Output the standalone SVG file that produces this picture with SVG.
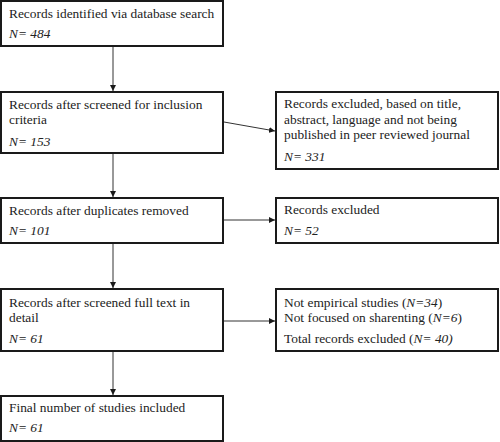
<svg xmlns="http://www.w3.org/2000/svg" width="500" height="442" viewBox="0 0 500 442">
<style>
.box{fill:#fff;stroke:#1a1a1a;stroke-width:2}
text{font-family:"Liberation Serif","Times New Roman",serif;font-size:13.4px;fill:#222}
.n{font-style:italic}
.c{stroke:#333;stroke-width:1;fill:none;marker-end:url(#ah)}
</style>
<defs>
<marker id="ah" viewBox="0 0 10 10" refX="10" refY="5" markerWidth="6" markerHeight="6" markerUnits="userSpaceOnUse" orient="auto">
<path d="M0,0 L10,5 L0,10 z" fill="#1a1a1a"/>
</marker>
</defs>
<rect width="500" height="442" fill="#fff"/>
<g id="connectors">
<line class="c" x1="113" y1="46" x2="113" y2="91"/>
<line class="c" x1="113" y1="153" x2="113" y2="197"/>
<line class="c" x1="113" y1="243" x2="113" y2="288"/>
<line class="c" x1="113" y1="351" x2="113" y2="395"/>
<line class="c" x1="224" y1="122" x2="275" y2="131"/>
<line class="c" x1="224" y1="220" x2="275" y2="220"/>
<line class="c" x1="224" y1="321" x2="275" y2="321"/>
</g>
<g id="n1">
<rect class="box" x="1" y="1" width="222" height="45"/>
<text x="9" y="18">Records identified via database search</text>
<text x="9" y="38" class="n">N= 484</text>
</g>
<g id="n2">
<rect class="box" x="1" y="92" width="222" height="61"/>
<text x="9" y="109">Records after screened for inclusion</text>
<text x="9" y="124">criteria</text>
<text x="9" y="146" class="n">N= 153</text>
</g>
<g id="n3">
<rect class="box" x="1" y="198" width="222" height="45"/>
<text x="9" y="215">Records after duplicates removed</text>
<text x="9" y="235" class="n">N= 101</text>
</g>
<g id="n4">
<rect class="box" x="1" y="289" width="222" height="62"/>
<text x="9" y="307">Records after screened full text in</text>
<text x="9" y="322">detail</text>
<text x="9" y="343" class="n">N= 61</text>
</g>
<g id="n5">
<rect class="box" x="1" y="396" width="222" height="45"/>
<text x="9" y="412">Final number of studies included</text>
<text x="9" y="432" class="n">N= 61</text>
</g>
<g id="r1">
<rect class="box" x="276" y="92" width="222" height="77"/>
<text x="284" y="108">Records excluded, based on title,</text>
<text x="284" y="124">abstract, language and not being</text>
<text x="284" y="139">published in peer reviewed journal</text>
<text x="284" y="161" class="n">N= 331</text>
</g>
<g id="r2">
<rect class="box" x="276" y="198" width="222" height="45"/>
<text x="284" y="214">Records excluded</text>
<text x="284" y="235" class="n">N= 52</text>
</g>
<g id="r3">
<rect class="box" x="276" y="289" width="222" height="62"/>
<text x="284" y="307">Not empirical studies (<tspan class="n">N=34</tspan>)</text>
<text x="284" y="322">Not focused on sharenting (<tspan class="n">N=6</tspan>)</text>
<text x="284" y="343">Total records excluded (<tspan class="n">N= 40)</tspan></text>
</g>
</svg>
